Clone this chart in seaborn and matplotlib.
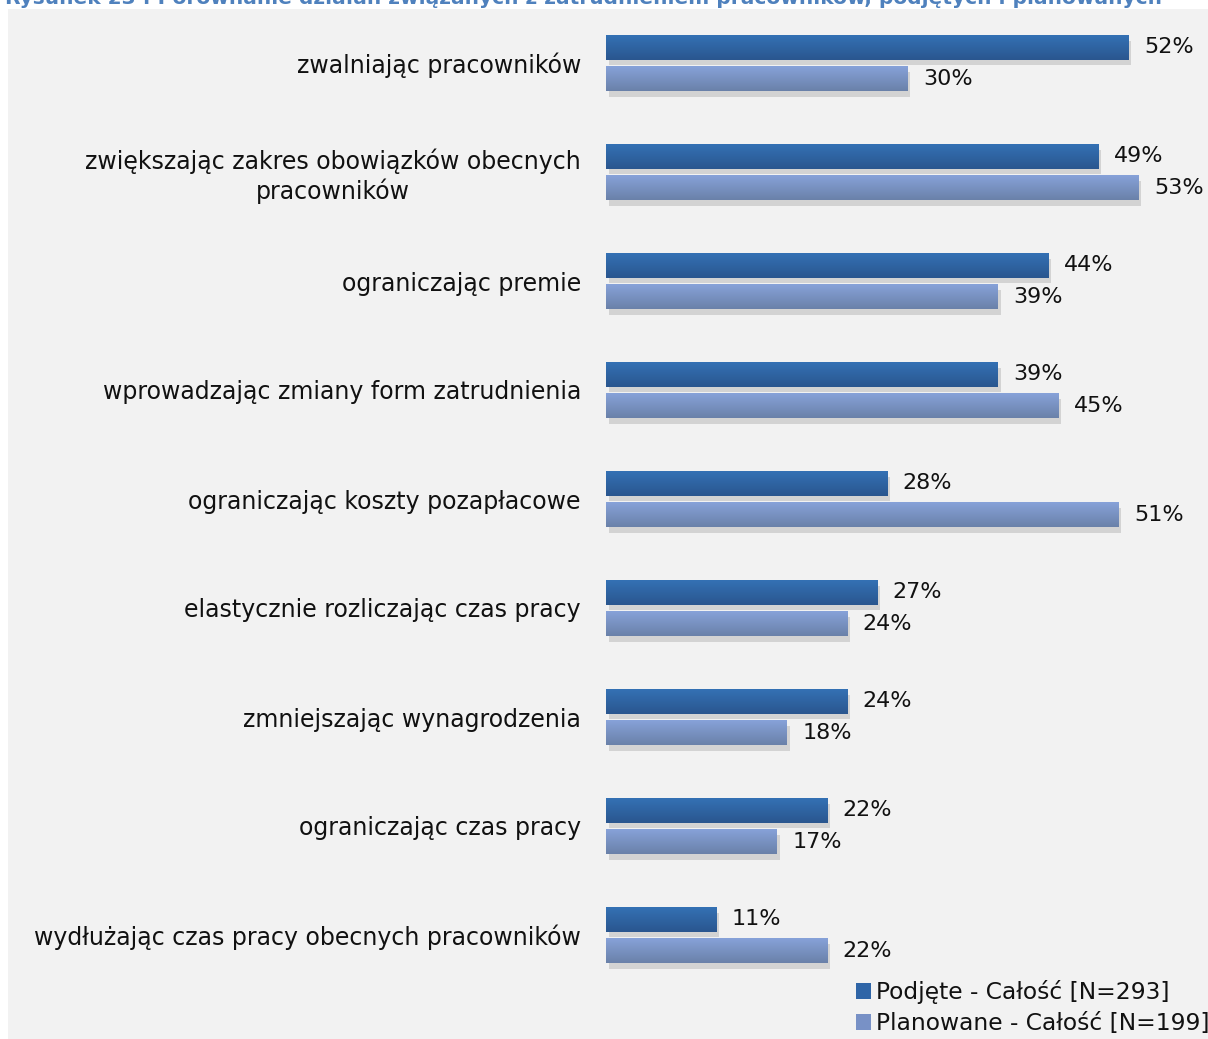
import matplotlib
matplotlib.use("Agg")
import matplotlib.pyplot as plt
import matplotlib.patheffects as pe
from matplotlib.patches import Rectangle, Patch
from matplotlib.colors import LinearSegmentedColormap
import seaborn as sns
import pandas as pd
import numpy as np

categories = [
    "zwalniając pracowników",
    "zwiększając zakres obowiązków obecnych\npracowników",
    "ograniczając premie",
    "wprowadzając zmiany form zatrudnienia",
    "ograniczając koszty pozapłacowe",
    "elastycznie rozliczając czas pracy",
    "zmniejszając wynagrodzenia",
    "ograniczając czas pracy",
    "wydłużając czas pracy obecnych pracowników",
]
podjete = [52, 49, 44, 39, 28, 27, 24, 22, 11]
planowane = [30, 53, 39, 45, 51, 24, 18, 17, 22]
series_names = ["Podjęte - Całość [N=293]", "Planowane - Całość [N=199]"]
colors = ["#2F65A7", "#7891C6"]
gradients = [("#3471B4", "#2A568F"), ("#87A2D9", "#6A81A9")]
title = "Rysunek 23 : Porównanie działań związanych z zatrudnieniem pracowników, podjętych i planowanych"

df = pd.DataFrame({
    "kategoria": categories * 2,
    "wartosc": podjete + planowane,
    "seria": [series_names[0]] * len(categories) + [series_names[1]] * len(categories),
})

sns.set_theme(style="white")
plt.rcParams["font.family"] = ["DejaVu Sans"]

W, H = 1208, 1039
fig = plt.figure(figsize=(W / 100, H / 100), dpi=100, facecolor="white")

# grey panel background
bg = Rectangle((8 / W, 0), 1 - 8 / W, 1 - 9 / H, transform=fig.transFigure,
               facecolor="#F2F2F2", edgecolor="none", zorder=-10)
fig.patches.append(bg)

ax_left, ax_right = 606 / W, 1199 / W
ax_top, ax_bot = 8.5, 989.5
ax = fig.add_axes([ax_left, 1 - ax_bot / H, ax_right - ax_left, (ax_bot - ax_top) / H])
ax.set_facecolor("none")
ax.set_zorder(5)

sns.barplot(data=df, y="kategoria", x="wartosc", hue="seria", palette=colors,
            orient="h", width=0.57, gap=0.2, ax=ax, legend=False, saturation=1,
            linewidth=0, edgecolor="none")

ax.set_xlim(0, 59)
ax.set_ylim(len(categories) - 0.5, -0.5)

grad = np.linspace(0, 1, 64).reshape(-1, 1)
for cont, (c_top, c_bot) in zip(ax.containers, gradients):
    cmap = LinearSegmentedColormap.from_list("g", [c_top, c_bot])
    for p in cont.patches:
        p.set_path_effects([pe.SimplePatchShadow(offset=(2, -4), shadow_rgbFace="#9a9a9a", alpha=0.35),
                            pe.Normal()])
        x0, y0 = p.get_x(), p.get_y()
        w, h = p.get_width(), p.get_height()
        # y axis inverted: y0 is top in data (smaller value)
        ax.imshow(grad, cmap=cmap, aspect="auto", extent=(x0, x0 + w, y0 + h, y0),
                  origin="upper", zorder=p.get_zorder() + 0.1, interpolation="bilinear")

for cont in ax.containers:
    ax.bar_label(cont, labels=[f"{v:.0f}%" for v in cont.datavalues], padding=11,
                 fontsize=16, color="#111111")

ax.set_xlim(0, 59)
ax.set_ylim(len(categories) - 0.5, -0.5)
ax.set_aspect("auto")
ax.set_xlabel("")
ax.set_ylabel("")
ax.set_xticks([])
ax.tick_params(axis="y", length=0, pad=18, labelsize=17, labelcolor="#111111")
for lbl in ax.get_yticklabels():
    lbl.set_multialignment("center")
for s in ax.spines.values():
    s.set_visible(False)

handles = [Patch(facecolor=c, edgecolor="none") for c in colors]
leg = fig.legend(handles, series_names, loc="upper left", bbox_to_anchor=(856 / W, 1 - 980 / H),
                 frameon=False, fontsize=16.8, handlelength=0.65, handleheight=0.65,
                 handletextpad=0.2, labelspacing=0.35, borderpad=0, borderaxespad=0)
for t in leg.get_texts():
    t.set_color("#111111")

fig.text(5 / W, 1 - 4 / H, title, color="#4F81BD", fontsize=14.5, fontweight="bold",
         ha="left", va="baseline")

fig.savefig("out.png", dpi=100, facecolor="white")
